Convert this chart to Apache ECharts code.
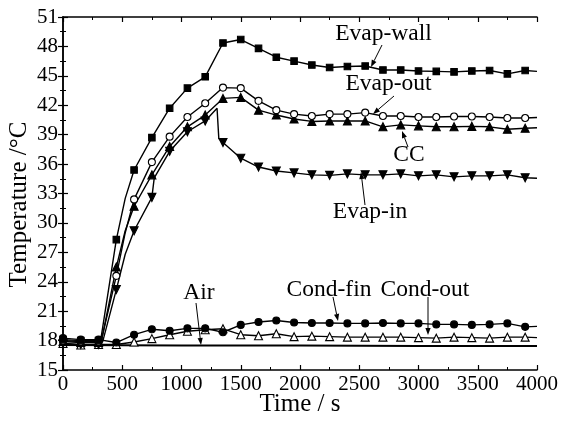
<!DOCTYPE html>
<html>
<head>
<meta charset="utf-8">
<script src="https://cdn.jsdelivr.net/npm/echarts@6/dist/echarts.min.js"></script>
<style>
html,body{margin:0;padding:0;background:#fff;}
#chart{width:565px;height:426px;}
</style>
</head>
<body>
<div id="chart"></div>
<script>
// ---- data (time in s, temperature in °C) ----
const markerTimes = [0,150,300,450,600,750,900,1050,1200,1350,1500,1650,1800,1950,2100,2250,2400,2550,2700,2850,3000,3150,3300,3450,3600,3750,3900];
const evapWall = [18.1,18.0,18.0,28.3,35.4,38.7,41.7,43.75,44.9,48.35,48.7,47.8,46.9,46.5,46.1,45.85,45.95,46.0,45.6,45.6,45.5,45.45,45.4,45.5,45.55,45.2,45.55];
const evapOut  = [18.0,17.9,17.9,24.6,32.4,36.2,38.8,40.8,42.2,43.8,43.75,42.45,41.5,41.1,40.9,41.1,41.1,41.25,40.9,40.9,40.8,40.8,40.85,40.85,40.8,40.7,40.7];
const ccTemp   = [17.9,17.8,17.8,25.5,31.7,34.9,37.8,39.8,41.0,42.7,42.8,41.5,41.0,40.6,40.35,40.4,40.4,40.4,39.8,40.0,39.9,39.8,39.8,39.85,39.8,39.55,39.65];
const evapIn   = [17.7,17.6,17.6,23.2,29.2,32.6,37.3,39.3,40.4,38.2,36.6,35.7,35.3,35.1,34.9,34.85,35.0,34.9,34.9,35.0,34.8,34.9,34.7,34.8,34.8,34.9,34.6];
const condFin  = [18.25,18.1,18.1,17.8,18.6,19.15,19.0,19.25,19.25,18.85,19.6,19.9,20.05,19.85,19.8,19.8,19.75,19.75,19.8,19.75,19.75,19.65,19.65,19.6,19.65,19.75,19.4];
const condOut  = [17.7,17.55,17.6,17.6,17.85,18.2,18.6,18.95,19.1,19.2,18.6,18.5,18.7,18.4,18.45,18.4,18.35,18.35,18.35,18.35,18.3,18.25,18.35,18.3,18.25,18.35,18.35];
// extra line points between markers (no marker drawn)
const evapWallExtra = [[320,18.2],[525,32.5],[4000,45.45]];
const evapOutExtra  = [[325,18.1],[525,29.0],[4000,40.75]];
const ccExtra       = [[325,18.0],[525,29.2],[4000,39.7]];
const evapInExtra   = [[335,17.9],[525,26.8],[770,34.6],[1300,41.7],[1315,38.6],[4000,34.55]];
const condFinExtra  = [[4000,19.45]];
const condOutExtra  = [[4000,18.3]];
const airTemp = [[0,17.55],[1000,17.5],[2000,17.5],[3000,17.45],[4000,17.45]];
const xTicks = {min:0,max:4000,step:500};
const yTicks = {min:15,max:51,step:3};

const FONT = '"Liberation Serif","Times New Roman",serif';

function build(vals, extra){
  const pts = markerTimes.map((t,i)=>({value:[t,vals[i]]}));
  extra.forEach(p=>pts.push({value:p, symbol:'none'}));
  pts.sort((a,b)=>a.value[0]-b.value[0]);
  return pts;
}
function lineSeries(name, data, symbol, filled, rotate, size){
  return {
    name, type:'line', data, symbol, symbolSize: size,
    symbolRotate: rotate||0, showAllSymbol:true,
    lineStyle:{color:'#000',width:1.4},
    itemStyle:{color: filled?'#000':'#fff', borderColor:'#000', borderWidth:1.1},
    emphasis:{disabled:true}, animation:false
  };
}

const chart = echarts.init(document.getElementById('chart'), null, {renderer:'canvas'});

function axisCommon(show){
  return {
    type:'value',
    axisLine:{show:true,lineStyle:{color:'#000',width:1.5}},
    axisTick:{show:true,inside:true,length:5,lineStyle:{color:'#000',width:1.2}},
    minorTick:{show:true,splitNumber:2,length:3,lineStyle:{color:'#000',width:1}},
    splitLine:{show:false},
    axisLabel:{show:show,color:'#000',fontFamily:FONT,fontSize:21},
  };
}

const option = {
  backgroundColor:'#fff',
  animation:false,
  grid:{left:63,right:28,top:17,bottom:56,containLabel:false,outerBoundsMode:'none'},
  xAxis:[
    Object.assign(axisCommon(true),{min:xTicks.min,max:xTicks.max,interval:xTicks.step,position:'bottom',
      name:'Time / s',nameLocation:'middle',nameGap:22,nameMoveOverlap:false,
      nameTextStyle:{color:'#000',fontFamily:FONT,fontSize:25,verticalAlign:'top'},
      axisLabel:{show:true,color:'#000',fontFamily:FONT,fontSize:21,margin:4,formatter:v=>String(v)}}),
    Object.assign(axisCommon(false),{min:xTicks.min,max:xTicks.max,interval:xTicks.step,position:'top'})
  ],
  yAxis:[
    Object.assign(axisCommon(true),{min:yTicks.min,max:yTicks.max,interval:yTicks.step,position:'left',
      name:'Temperature /°C',nameLocation:'middle',nameGap:31,nameMoveOverlap:false,
      nameTextStyle:{color:'#000',fontFamily:FONT,fontSize:25,padding:[0,22,0,0]},
      axisLabel:{show:true,color:'#000',fontFamily:FONT,fontSize:21,margin:5,formatter:v=>String(v)}}),
    Object.assign(axisCommon(false),{min:yTicks.min,max:yTicks.max,interval:yTicks.step,position:'right'})
  ],
  series:[
    {name:'Air',type:'line',data:airTemp,symbol:'none',lineStyle:{color:'#000',width:2},emphasis:{disabled:true}},
    lineSeries('Cond-out', build(condOut, condOutExtra), 'triangle', false, 0, 8),
    lineSeries('Cond-fin', build(condFin, condFinExtra), 'circle', true, 0, 7),
    lineSeries('Evap-in', build(evapIn, evapInExtra), 'triangle', true, 180, 8),
    lineSeries('CC', build(ccTemp, ccExtra), 'triangle', true, 0, 8),
    lineSeries('Evap-out', build(evapOut, evapOutExtra), 'circle', false, 0, 7),
    lineSeries('Evap-wall', build(evapWall, evapWallExtra), 'rect', true, 0, 6.5)
  ]
};
chart.setOption(option);

// ---- annotations ----
const labels = [
  {text:'Evap-wall', x:383.5, y:33.5, from:[382,45], to:[371,67]},
  {text:'Evap-out',  x:388.5, y:83.5, from:[394,96], to:[373,114]},
  {text:'CC',        x:409,   y:154.5, from:[408,147], to:[402,131]},
  {text:'Evap-in',   x:370,   y:212, from:[365,205], to:[361,172]},
  {text:'Air',       x:199,   y:292.5, from:[196,303], to:[201,345]},
  {text:'Cond-fin',  x:329,   y:289.5, from:[333,297], to:[338,321]},
  {text:'Cond-out',  x:425,   y:289.5, from:[428,297], to:[428,335]}
];
const g = [];
labels.forEach(l=>{
  g.push({type:'text',silent:true,z:100,style:{text:l.text,x:l.x,y:l.y,fontFamily:FONT,fontSize:23.5,fill:'#000',align:'center',verticalAlign:'middle'}});
  const [x1,y1]=l.from,[x2,y2]=l.to;
  const dx=x2-x1, dy=y2-y1, len=Math.hypot(dx,dy), ux=dx/len, uy=dy/len;
  const hl=7, hw=2.6;
  const bx=x2-ux*hl, by=y2-uy*hl;
  g.push({type:'line',silent:true,z:100,shape:{x1,y1,x2:bx,y2:by},style:{stroke:'#000',lineWidth:1}});
  g.push({type:'polygon',silent:true,z:100,shape:{points:[[x2,y2],[bx-uy*hw,by+ux*hw],[bx+uy*hw,by-ux*hw]]},style:{fill:'#000'}});
});
chart.setOption({graphic:g});
</script>
</body>
</html>
